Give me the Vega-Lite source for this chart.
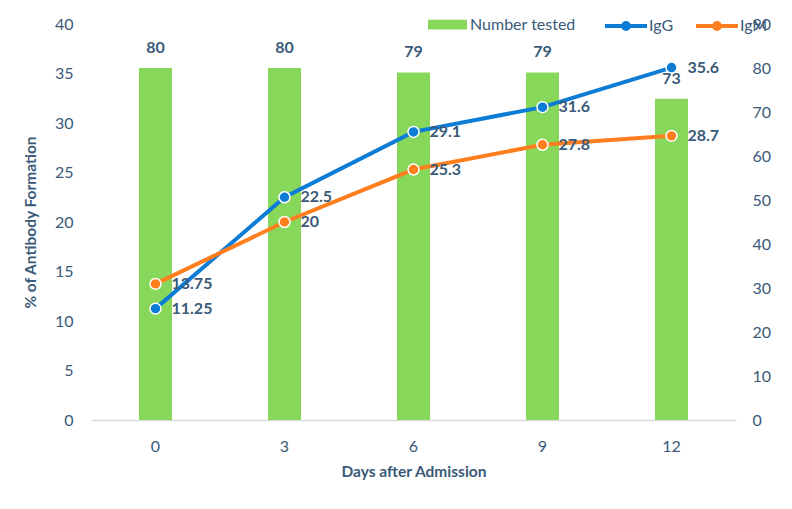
{
  "$schema": "https://vega.github.io/schema/vega-lite/v6.json",
  "width": 645,
  "height": 396,
  "autosize": {"type": "none"},
  "padding": {"left": 91, "top": 24, "right": 56, "bottom": 89},
  "background": "white",
  "config": {
    "view": {"stroke": null},
    "font": "Lato",
    "axis": {"labelColor": "#3A5A78", "titleColor": "#3A5A78", "labelFont": "Lato", "titleFont": "Lato", "grid": false, "ticks": false, "domain": false, "labelFontSize": 16, "titleFontSize": 15.5},
    "legend": {"labelFont": "Lato", "labelFontSize": 16, "labelColor": "#3A5A78"}
  },
  "datasets": {
    "tested": [
      {"day": "0", "n": 80},
      {"day": "3", "n": 80},
      {"day": "6", "n": 79},
      {"day": "9", "n": 79},
      {"day": "12", "n": 73}
    ],
    "antibody": [
      {"day": "0", "series": "IgG", "pct": 11.25},
      {"day": "3", "series": "IgG", "pct": 22.5},
      {"day": "6", "series": "IgG", "pct": 29.1},
      {"day": "9", "series": "IgG", "pct": 31.6},
      {"day": "12", "series": "IgG", "pct": 35.6},
      {"day": "0", "series": "IgM", "pct": 13.75},
      {"day": "3", "series": "IgM", "pct": 20},
      {"day": "6", "series": "IgM", "pct": 25.3},
      {"day": "9", "series": "IgM", "pct": 27.8},
      {"day": "12", "series": "IgM", "pct": 28.7}
    ]
  },
  "layer": [
    {
      "data": {"name": "tested"},
      "encoding": {
        "x": {"field": "day", "type": "ordinal", "sort": ["0", "3", "6", "9", "12"], "scale": {"paddingInner": 0, "paddingOuter": 0},
          "axis": {"title": "Days after Admission", "labelAngle": 0, "domain": true, "domainColor": "#D9D9D9", "domainWidth": 1.5, "labelPadding": 18, "titlePadding": 10, "titleFontWeight": "bold"}},
        "y": {"field": "n", "type": "quantitative", "scale": {"domain": [0, 90]},
          "axis": {"orient": "right", "values": [0, 10, 20, 30, 40, 50, 60, 70, 80, 90], "labelPadding": 16, "title": null}}
      },
      "layer": [
        {
          "mark": {"type": "bar", "size": 33},
          "encoding": {
            "color": {"datum": "Number tested", "type": "nominal", "scale": {"range": ["#87D75A"]},
              "legend": {"orient": "none", "legendX": 336, "legendY": -20, "title": null, "direction": "horizontal", "symbolType": "M-1,-0.25L1,-0.25L1,0.25L-1,0.25Z", "symbolSize": 1521, "labelOffset": 2}}
          }
        },
        {
          "mark": {"type": "text", "dy": -12, "baseline": "bottom", "fontWeight": "bold", "fontSize": 16, "color": "#3A5A78", "font": "Lato"},
          "encoding": {"text": {"field": "n", "type": "nominal"}}
        }
      ]
    },
    {
      "data": {"name": "antibody"},
      "encoding": {
        "x": {"field": "day", "type": "ordinal", "sort": ["0", "3", "6", "9", "12"]},
        "y": {"field": "pct", "type": "quantitative", "scale": {"domain": [0, 40]},
          "axis": {"orient": "left", "values": [0, 5, 10, 15, 20, 25, 30, 35, 40], "labelPadding": 18, "title": "% of Antibody Formation", "titlePadding": 16, "titleFontWeight": "bold"}}
      },
      "layer": [
        {
          "mark": {"type": "line", "strokeWidth": 4},
          "encoding": {
            "color": {"field": "series", "type": "nominal", "scale": {"domain": ["IgG", "IgM"], "range": ["#0C7CD5", "#FF7F1F"]},
              "legend": {"orient": "none", "legendX": 512, "legendY": -21, "title": null, "direction": "horizontal", "symbolType": "M-1,0L1,0M0.14,0A0.14,0.14,0,1,1,-0.14,0A0.14,0.14,0,1,1,0.14,0", "symbolSize": 1764, "symbolStrokeWidth": 4, "columnPadding": 14, "labelOffset": 0}}
          }
        },
        {
          "mark": {"type": "circle", "size": 120, "stroke": "white", "strokeWidth": 1.5, "opacity": 1},
          "encoding": {
            "color": {"field": "series", "type": "nominal"}
          }
        },
        {
          "mark": {"type": "text", "dx": 16, "align": "left", "baseline": "middle", "fontWeight": "bold", "fontSize": 16, "color": "#3A5A78", "font": "Lato"},
          "encoding": {"text": {"field": "pct", "type": "nominal"}}
        }
      ]
    }
  ],
  "resolve": {"scale": {"y": "independent", "color": "independent"}, "legend": {"color": "independent"}}
}
